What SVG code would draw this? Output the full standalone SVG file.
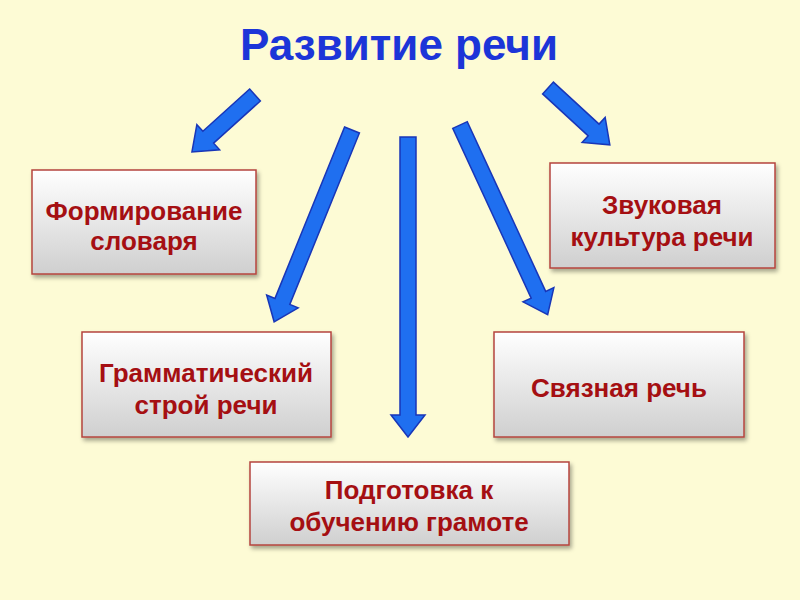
<svg xmlns="http://www.w3.org/2000/svg" width="800" height="600" viewBox="0 0 800 600">
<defs>
<linearGradient id="g" x1="0" y1="0" x2="0" y2="1"><stop offset="0" stop-color="#ffffff"/><stop offset="1" stop-color="#cfcfcf"/></linearGradient>
<filter id="sh" x="-10%" y="-10%" width="130%" height="130%"><feDropShadow dx="2" dy="3" stdDeviation="2" flood-color="#000" flood-opacity="0.35"/></filter>
<style>
.box{fill:url(#g);stroke:#b5443f;stroke-width:1.5;filter:url(#sh)}
.t{font-family:"Liberation Sans",Arial,sans-serif;font-weight:bold;font-size:26px;fill:#a50f12;text-anchor:middle}
.ar{fill:#1f6ff0;stroke:#1836b8;stroke-width:1.5;stroke-linejoin:miter}
</style>
</defs>
<rect width="800" height="600" fill="#fdfbd5"/>
<text x="399" y="60" font-family="Liberation Sans,Arial,sans-serif" font-weight="bold" font-size="44" fill="#1c35d8" text-anchor="middle">Развитие речи</text>
<g id="connectors">
<polygon class="ar" transform="translate(255,95) rotate(47.9)" points="-8,0 8,0 8,63 17,63 0,85 -17,63 -8,63"/>
<polygon class="ar" transform="translate(352,130) rotate(22.1)" points="-8,0 8,0 8,185 17,185 0,207 -17,185 -8,185"/>
<polygon class="ar" transform="translate(408,137)" points="-8,0 8,0 8,278 17,278 0,300 -17,278 -8,278"/>
<polygon class="ar" transform="translate(460,125) rotate(-24.8)" points="-8,0 8,0 8,187 17,187 0,209 -17,187 -8,187"/>
<polygon class="ar" transform="translate(548,88) rotate(-47.4)" points="-8,0 8,0 8,62 17,62 0,84 -17,62 -8,62"/>
</g>
<g id="n1"><rect class="box" x="32" y="170" width="224" height="104"/><text class="t" x="144" y="220">Формирование</text><text class="t" x="144" y="250">словаря</text></g>
<g id="n2"><rect class="box" x="550" y="163" width="225" height="105"/><text class="t" x="662" y="214">Звуковая</text><text class="t" x="662" y="246">культура речи</text></g>
<g id="n3"><rect class="box" x="82" y="332" width="249" height="105"/><text class="t" x="206" y="382">Грамматический</text><text class="t" x="206" y="414">строй речи</text></g>
<g id="n4"><rect class="box" x="494" y="332" width="250" height="105"/><text class="t" x="619" y="397">Связная речь</text></g>
<g id="n5"><rect class="box" x="250" y="462" width="319" height="83"/><text class="t" x="409" y="499">Подготовка к</text><text class="t" x="409" y="531">обучению грамоте</text></g>
</svg>
